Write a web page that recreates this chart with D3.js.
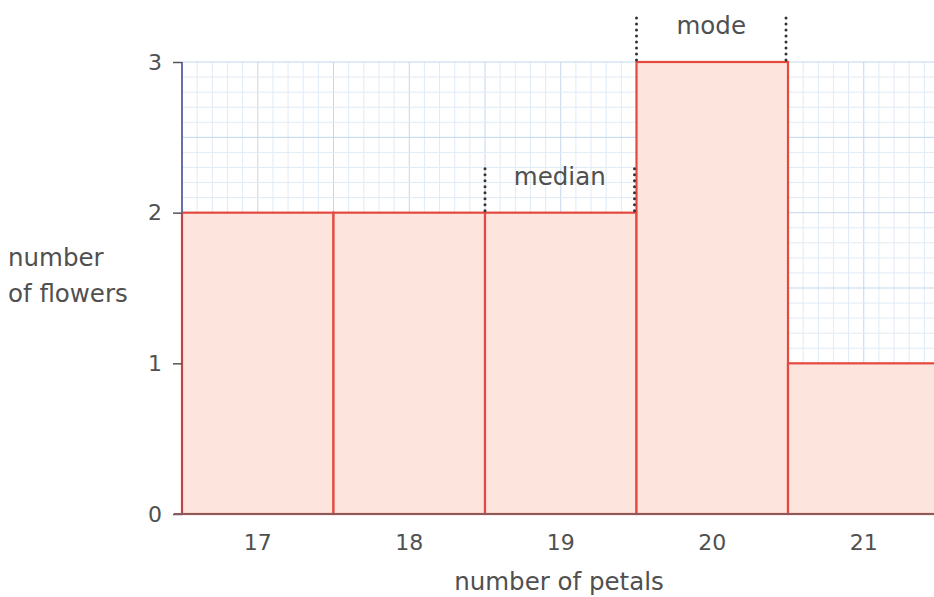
<!DOCTYPE html>
<html><head><meta charset="utf-8">
<script src="https://cdn.jsdelivr.net/npm/d3@7"></script>
<style>body{margin:0;background:#fff}svg{display:block}text{font-family:"DejaVu Sans",sans-serif;fill:#505050}</style>
</head><body><svg id="c" width="934" height="597"></svg>
<script>
const petals = [17, 18, 19, 20, 21];
const flowers = [2, 2, 2, 3, 1];
const yTicks = [0, 1, 2, 3];
const annotations = [{label: "median", from: 19, to: 20, level: 2}, {label: "mode", from: 20, to: 21, level: 3}];

const svg = d3.select("#c");
const padL = 182, padB = 514, padT = 62, step = 151.5;
const x = d3.scaleBand().domain(petals).range([padL, padL + step * petals.length]).padding(0);
const xl = d3.scaleLinear().domain([petals[0] - 0.5, petals[petals.length - 1] + 0.5]).range([padL, padL + step * petals.length]);
const y = d3.scaleLinear().domain([0, 3]).range([padB, padT]);

// grid
const g = svg.append("g");
const minorX = d3.range(0, 51).map(i => xl.domain()[0] + i * 0.1);
const minorY = d3.range(0, 31).map(i => i * 0.1);
g.selectAll(".mx").data(minorX).join("line")
  .attr("x1", d => xl(d)).attr("x2", d => xl(d)).attr("y1", y(3)).attr("y2", y(0))
  .attr("stroke", (d, i) => i % 5 === 0 ? "#c2d7ec" : "#e0ebf5").attr("stroke-width", 1);
g.selectAll(".my").data(minorY).join("line")
  .attr("y1", d => y(d)).attr("y2", d => y(d)).attr("x1", padL).attr("x2", 934)
  .attr("stroke", (d, i) => i % 5 === 0 ? "#c2d7ec" : "#e0ebf5").attr("stroke-width", 1);

// bars
svg.selectAll(".bar").data(petals).join("rect")
  .attr("x", d => x(d)).attr("width", x.bandwidth())
  .attr("y", (d, i) => y(flowers[i])).attr("height", (d, i) => y(0) - y(flowers[i]))
  .attr("fill", "#fde4dc").attr("stroke", "#e5483f").attr("stroke-width", 2.2);

// y axis
svg.append("line").attr("x1", padL).attr("x2", padL).attr("y1", y(3)).attr("y2", y(0))
  .attr("stroke", "#6a6ea6").attr("stroke-width", 2);
svg.append("line").attr("x1", padL).attr("x2", padL).attr("y1", y(2)).attr("y2", y(0))
  .attr("stroke", "#b84848").attr("stroke-width", 2);
const ya = svg.append("g").attr("transform", `translate(${padL},0)`)
  .call(d3.axisLeft(y).tickValues(yTicks).tickSize(9).tickPadding(11).tickFormat(d3.format("d")));
ya.select(".domain").remove();
ya.selectAll(".tick line").attr("stroke", "#555").attr("stroke-width", 1.5);
ya.selectAll(".tick text").style("font-size", "22px").attr("fill", "#505050");

// x axis
const xa = svg.append("g").attr("transform", `translate(0,${padB})`)
  .call(d3.axisBottom(x).tickSize(0).tickPadding(20));
xa.select(".domain").remove();
xa.selectAll(".tick text").style("font-size", "22px").attr("fill", "#505050");
svg.append("line").attr("x1", 174).attr("x2", 934).attr("y1", padB).attr("y2", padB)
  .attr("stroke", "#8c5a5a").attr("stroke-width", 2);

// annotations
annotations.forEach(a => {
  const xs = [xl(a.from - 0.5), xl(a.to - 0.5) - 2];
  xs.forEach(xx => {
    svg.append("line").attr("x1", xx).attr("x2", xx).attr("y1", y(a.level) - 44).attr("y2", y(a.level))
      .attr("stroke", "#333").attr("stroke-width", 3).attr("stroke-linecap", "round")
      .attr("stroke-dasharray", "0 6");
  });
  svg.append("text").attr("x", (xs[0] + xs[1]) / 2).attr("y", y(a.level) - 28)
    .attr("text-anchor", "middle").style("font-size", "24.5px").text(a.label);
});

// axis titles
svg.append("text").attr("x", 8).attr("y", 266).style("font-size", "24.5px").text("number");
svg.append("text").attr("x", 8).attr("y", 302).style("font-size", "24.5px").text("of flowers");
svg.append("text").attr("x", 559).attr("y", 590).attr("text-anchor", "middle").style("font-size", "24.5px").text("number of petals");
</script></body></html>
